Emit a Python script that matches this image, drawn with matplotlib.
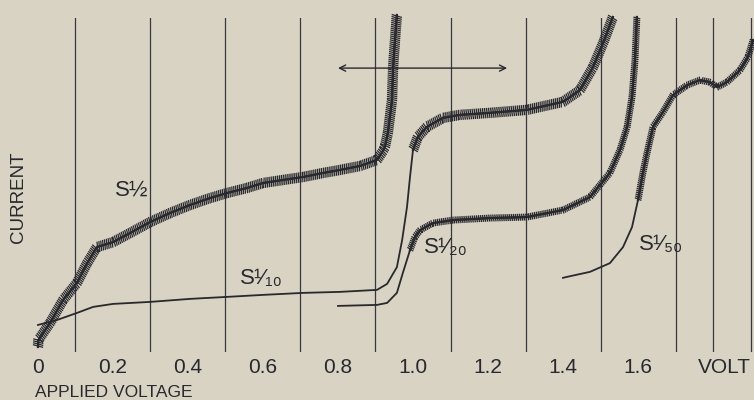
import numpy as np
import matplotlib
matplotlib.use('Agg')
import matplotlib.pyplot as plt
from matplotlib import patheffects as pe

# polarogram, current in arbitrary units (0 = bottom of grid, 100 = top of grid)
s2_v = [0.0, 0.001, 0.032, 0.067, 0.104, 0.131, 0.157, 0.20, 0.245, 0.299, 0.352, 0.405,
        0.459, 0.504, 0.557, 0.60, 0.653, 0.707, 0.76, 0.805, 0.859, 0.904, 0.92, 0.925,
        0.933, 0.944, 0.947, 0.952, 0.957]
s2_i = [1.5, 3.6, 8.7, 15.6, 20.7, 26.6, 31.4, 32.9, 35.6, 38.9, 41.6, 44.0,
        46.1, 47.6, 49.1, 50.6, 51.5, 52.4, 53.6, 54.5, 55.7, 57.5, 60.2, 61.4,
        65.6, 75.4, 85.3, 93.4, 100.9]

s10_v = [0.0, 0.051, 0.104, 0.147, 0.20, 0.299, 0.405, 0.504, 0.60, 0.707, 0.805, 0.904,
         0.931, 0.957, 0.971, 0.984, 0.992, 1.0, 1.013, 1.037, 1.08, 1.125, 1.205, 1.304,
         1.40, 1.445, 1.48, 1.507, 1.533]
s10_i = [8.1, 9.6, 11.7, 13.5, 14.4, 15.0, 15.9, 16.5, 17.1, 17.7, 18.0, 18.6,
         20.4, 25.4, 33.5, 43.4, 52.4, 60.5, 64.4, 67.4, 70.1, 71.0, 71.6, 72.5,
         74.9, 78.4, 85.3, 92.5, 100.3]

s20_v = [0.80, 0.904, 0.931, 0.957, 0.973, 0.992, 1.005, 1.019, 1.053, 1.107, 1.205,
         1.304, 1.40, 1.472, 1.525, 1.552, 1.571, 1.584, 1.592, 1.597]
s20_i = [13.8, 14.1, 14.7, 17.7, 23.7, 30.5, 34.4, 36.5, 38.6, 39.5, 40.1,
         40.4, 42.5, 46.4, 53.6, 60.5, 67.4, 76.3, 87.4, 100.3]

s50_v = [1.40, 1.411, 1.472, 1.525, 1.56, 1.584, 1.60, 1.613, 1.624, 1.64, 1.667,
         1.693, 1.731, 1.765, 1.792, 1.811, 1.837, 1.872, 1.893, 1.907]
s50_i = [22.2, 22.5, 24.0, 26.6, 31.4, 37.4, 45.5, 53.6, 59.6, 67.4, 71.9,
         76.9, 79.9, 81.4, 80.8, 79.3, 80.8, 84.4, 88.3, 93.4]

grid_v = [round(0.1 * k, 1) for k in range(20)]
tick_v = [0.0, 0.2, 0.4, 0.6, 0.8, 1.0, 1.2, 1.4, 1.6, 1.83]
tick_lab = ['0', '0.2', '0.4', '0.6', '0.8', '1.0', '1.2', '1.4', '1.6', 'VOLT']

bg = '#d9d3c3'
ink = '#28292e'
fam = ['Liberation Sans', 'DejaVu Sans']

fig = plt.figure(figsize=(7.54, 4.0), dpi=100, facecolor=bg)
ax = fig.add_axes([0, 0.12, 1, 0.835])
ax.set_facecolor(bg)
ax.set_xlim(-0.1013, 1.9093)
ax.set_ylim(0, 100)
for s in ax.spines.values():
    s.set_visible(False)
ax.set_yticks([])
ax.set_xticks(grid_v, minor=True)
ax.set_xticks(tick_v)
ax.set_xticklabels(tick_lab, fontsize=15, color=ink, family=fam)
ax.tick_params(axis='x', which='both', length=0, pad=4)
ax.grid(which='minor', axis='x', color='#35383f', lw=0.9)
ax.grid(which='major', visible=False)


def ripple(half):
    # dropping-electrode oscillation drawn as a dense slanted hatch on the curve
    return [pe.Normal(),
            pe.TickedStroke(spacing=1.4, angle=78, length=half, linewidth=0.9),
            pe.TickedStroke(spacing=1.4, angle=-102, length=half, linewidth=0.9)]


def curve(v, i, start, half, thin_lw=1.3):
    v = np.array(v)
    i = np.array(i)
    ax.plot(v, i, color=ink, lw=thin_lw, clip_on=False, zorder=3,
            solid_joinstyle='round')
    m = v >= start
    ax.plot(v[m], i[m], color=ink, lw=1.6, clip_on=False, zorder=3,
            solid_joinstyle='round', path_effects=ripple(half))


curve(s2_v, s2_i, 0.0, 2.4)
curve(s10_v, s10_i, 1.0, 2.4)
curve(s20_v, s20_i, 0.99, 1.5)
curve(s50_v, s50_i, 1.6, 1.5)

ax.annotate('', xy=(0.8, 85), xytext=(1.251, 85),
            arrowprops=dict(arrowstyle='<->', lw=1.0, color=ink, mutation_scale=11,
                            shrinkA=0, shrinkB=0))

lab = dict(fontsize=16, color=ink, family=fam, ha='center', va='center')
ax.text(0.25, 48.5, 'S½', **lab)
ax.text(0.597, 21.9, 'S¹⁄₁₀', **lab)
ax.text(1.088, 31.4, 'S¹⁄₂₀', **lab)
ax.text(1.661, 32.3, 'S¹⁄₅₀', **lab)

ax.text(-0.008, -12.0, 'APPLIED VOLTAGE', fontsize=12.5, color=ink, family=fam,
        ha='left', va='center', clip_on=False)
ax.text(-0.053, 46.4, 'CURRENT', fontsize=13.5, color=ink, family=fam,
        ha='center', va='center', rotation=90)

fig.savefig('out.png', dpi=100, facecolor=bg)
